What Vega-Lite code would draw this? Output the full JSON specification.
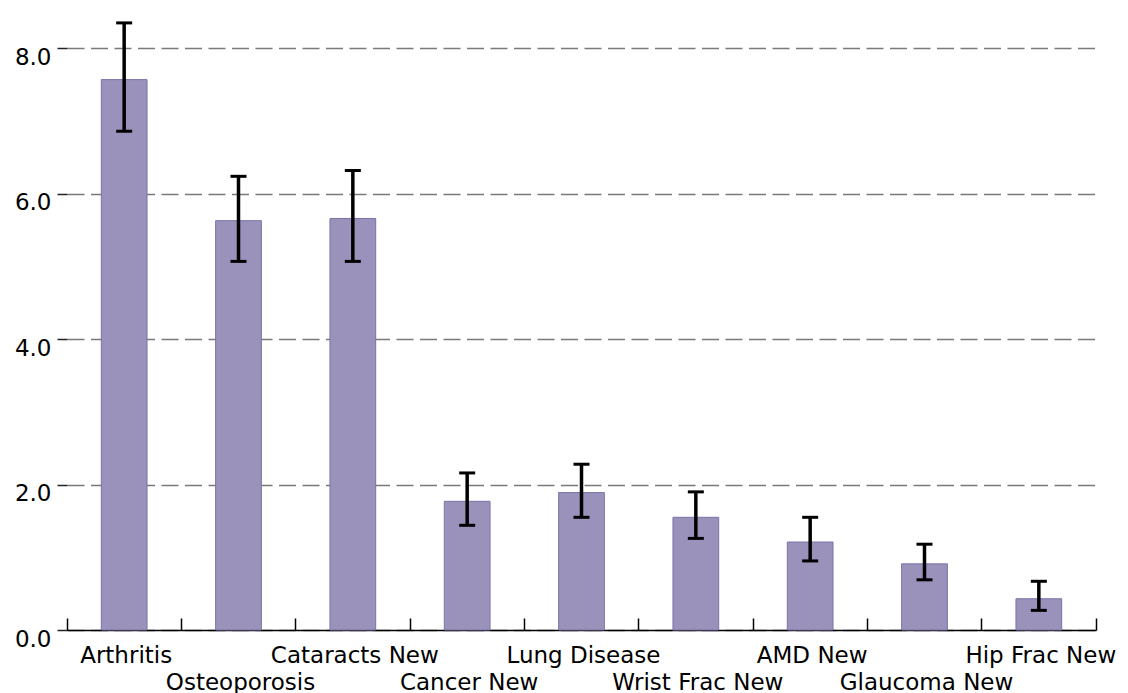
{
  "$schema": "https://vega.github.io/schema/vega-lite/v6.json",
  "autosize": "none",
  "width": 1029,
  "height": 626,
  "padding": {"left": 67, "top": 4, "right": 32, "bottom": 63},
  "background": "white",
  "config": {"view": {"stroke": null}, "font": "DejaVu Sans"},
  "data": {
    "values": [
      {"condition": "Arthritis", "value": 7.57, "lo": 6.86, "hi": 8.35},
      {"condition": "Osteoporosis", "value": 5.63, "lo": 5.07, "hi": 6.24},
      {"condition": "Cataracts New", "value": 5.66, "lo": 5.07, "hi": 6.32},
      {"condition": "Cancer New", "value": 1.77, "lo": 1.44, "hi": 2.16},
      {"condition": "Lung Disease", "value": 1.89, "lo": 1.55, "hi": 2.28},
      {"condition": "Wrist Frac New", "value": 1.55, "lo": 1.26, "hi": 1.90},
      {"condition": "AMD New", "value": 1.21, "lo": 0.95, "hi": 1.55},
      {"condition": "Glaucoma New", "value": 0.91, "lo": 0.69, "hi": 1.18},
      {"condition": "Hip Frac New", "value": 0.43, "lo": 0.27, "hi": 0.67}
    ]
  },
  "encoding": {
    "x": {
      "field": "condition",
      "type": "nominal",
      "sort": null,
      "scale": {"paddingInner": 0, "paddingOuter": 0},
      "axis": {
        "title": null,
        "labelAngle": 0,
        "bandPosition": 1,
        "tickExtra": true,
        "tickSize": -12,
        "tickColor": "black",
        "tickWidth": 1.5,
        "domainColor": "black",
        "domainWidth": 1.5,
        "labelFont": "DejaVu Sans",
        "labelFontSize": 23,
        "labelColor": "black",
        "labelPadding": 26,
        "labelBaseline": "top",
        "labelLineHeight": 27,
        "labelExpr": "round(datum.index * 8) % 2 == 1 ? ['', datum.label] : datum.label",
        "labelOverlap": false,
        "labelLimit": 0,
        "labelBound": false,
        "labelFlush": false,
        "labelOffset": 2,
        "grid": false
      }
    }
  },
  "layer": [
    {
      "mark": {"type": "bar", "width": {"band": 0.4}, "fill": "#9b92bc", "stroke": "#7b72a8", "strokeWidth": 1},
      "encoding": {
        "y": {
          "field": "value",
          "type": "quantitative",
          "scale": {"domain": [0, 8.61], "nice": false, "zero": true},
          "axis": {
            "title": null,
            "values": [0, 2, 4, 6, 8],
            "format": ".1f",
            "domain": false,
            "grid": true,
            "gridDash": [17, 6.5],
            "gridColor": "#7a7a7a",
            "gridWidth": 1.5,
            "tickSize": 10,
            "tickColor": "#222222",
            "tickWidth": 1.5,
            "labelFont": "DejaVu Sans",
            "labelFontSize": 23,
            "labelColor": "black",
            "labelPadding": 6,
            "labelBaseline": "alphabetic",
            "labelOffset": 16
          }
        }
      }
    },
    {
      "mark": {"type": "rule", "strokeWidth": 3.5, "color": "black"},
      "encoding": {
        "y": {"field": "lo", "type": "quantitative", "title": null},
        "y2": {"field": "hi"}
      }
    },
    {
      "mark": {"type": "tick", "size": 16, "thickness": 3, "color": "black", "opacity": 1},
      "encoding": {"y": {"field": "lo", "type": "quantitative", "title": null}}
    },
    {
      "mark": {"type": "tick", "size": 16, "thickness": 3, "color": "black", "opacity": 1},
      "encoding": {"y": {"field": "hi", "type": "quantitative", "title": null}}
    }
  ]
}
